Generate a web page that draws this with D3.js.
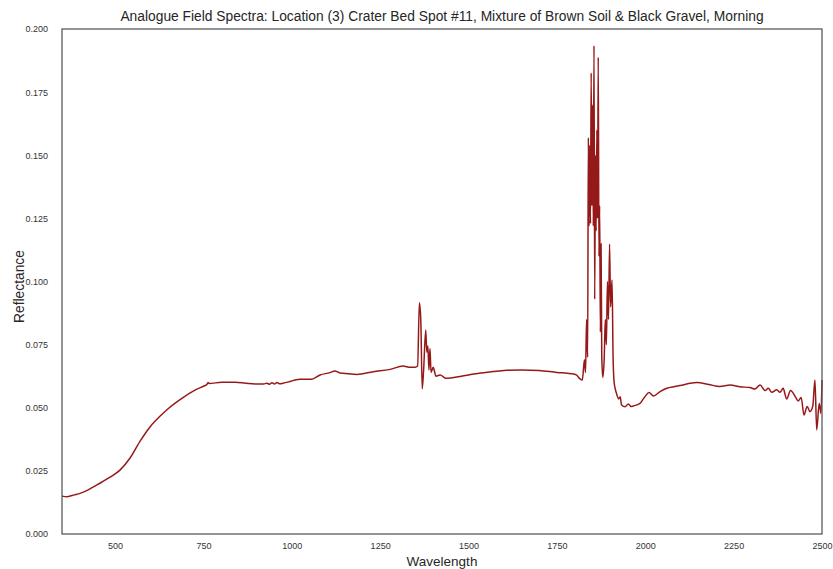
<!DOCTYPE html>
<html>
<head>
<meta charset="utf-8">
<script src="https://cdn.jsdelivr.net/npm/d3@7"></script>
<style>
  body { margin: 0; background: #fff; }
  text { font-family: "Liberation Sans", Arial, sans-serif; fill: #262626; }
</style>
</head>
<body>
<svg id="chart" width="833" height="569"></svg>
<script>
"use strict";

var titleText = "Analogue Field Spectra: Location (3) Crater Bed Spot #11, Mixture of Brown Soil & Black Gravel, Morning";

var xTicks = [500, 750, 1000, 1250, 1500, 1750, 2000, 2250, 2500];
var yTicks = [0, 0.025, 0.05, 0.075, 0.1, 0.125, 0.15, 0.175, 0.2];

// wavelength (nm) and reflectance
var wavelength = [
  350, 365, 385, 401, 420, 439, 462, 486, 514, 542, 571, 600, 630, 651, 689, 726, 755, 760, 763, 766,
  802, 840, 870, 896, 920, 930, 937, 944, 951, 958, 965, 975, 995, 1010, 1023, 1056, 1080, 1108, 1122, 1136,
  1160, 1184, 1231, 1278, 1315, 1335, 1349, 1356, 1361, 1365, 1369, 1373, 1379, 1382, 1385, 1388, 1391, 1394, 1400, 1408,
  1420, 1435, 1450, 1480, 1520, 1560, 1600, 1650, 1700, 1750, 1790, 1805, 1815, 1822, 1828, 1831, 1834, 1837, 1839, 1841,
  1843, 1845, 1847, 1849, 1851, 1853, 1855, 1857, 1859, 1861, 1863, 1865, 1867, 1869, 1871, 1873, 1875, 1877, 1880, 1884,
  1887, 1890, 1893, 1896, 1899, 1902, 1906, 1909, 1912, 1918, 1925, 1929, 1933, 1943, 1952, 1960, 1966, 1985, 1999, 2011,
  2023, 2042, 2061, 2084, 2098, 2146, 2180, 2211, 2240, 2268, 2296, 2310, 2325, 2339, 2348, 2358, 2372, 2381, 2390, 2400,
  2411, 2424, 2433, 2441, 2449, 2458, 2466, 2474, 2480, 2485, 2492, 2497, 2500
];
var reflectance = [
  0.0150, 0.0148, 0.0155, 0.0161, 0.0172, 0.0187, 0.0205, 0.0225, 0.0253, 0.0300, 0.0368, 0.0426, 0.0470, 0.0497, 0.0537, 0.0570, 0.0588, 0.0592, 0.0600, 0.0596,
  0.0601, 0.0601, 0.0597, 0.0594, 0.0594, 0.0597, 0.0593, 0.0599, 0.0594, 0.0600, 0.0595, 0.0597, 0.0604, 0.0610, 0.0613, 0.0613, 0.0630, 0.0639, 0.0646, 0.0638,
  0.0635, 0.0632, 0.0643, 0.0652, 0.0665, 0.0660, 0.0660, 0.0665, 0.0916, 0.0848, 0.0575, 0.0650, 0.0808, 0.0720, 0.0745, 0.0650, 0.0735, 0.0640, 0.0660, 0.0625,
  0.0630, 0.0617, 0.0618, 0.0625, 0.0635, 0.0642, 0.0648, 0.0650, 0.0648, 0.0640, 0.0635, 0.0630, 0.0615, 0.0610, 0.0690, 0.0640, 0.0850, 0.0700, 0.1570, 0.1220,
  0.1540, 0.1230, 0.1826, 0.1300, 0.1700, 0.1220, 0.1934, 0.0930, 0.1500, 0.1200, 0.1600, 0.1250, 0.1888, 0.1100, 0.1300, 0.0800, 0.1150, 0.0700, 0.0620, 0.0700,
  0.0850, 0.0750, 0.1000, 0.0850, 0.1148, 0.0900, 0.1006, 0.0700, 0.0600, 0.0560, 0.0535, 0.0544, 0.0511, 0.0504, 0.0515, 0.0505, 0.0507, 0.0517, 0.0544, 0.0560,
  0.0547, 0.0564, 0.0577, 0.0584, 0.0588, 0.0600, 0.0592, 0.0584, 0.0590, 0.0583, 0.0580, 0.0574, 0.0590, 0.0568, 0.0577, 0.0561, 0.0571, 0.0561, 0.0577, 0.0535,
  0.0568, 0.0545, 0.0527, 0.0541, 0.0471, 0.0505, 0.0485, 0.0507, 0.0610, 0.0412, 0.0517, 0.0478, 0.0610
];

var margin = { left: 62, right: 11, top: 29, bottom: 35 };
var width = 833, height = 569;
var plotW = width - margin.left - margin.right;
var plotH = height - margin.top - margin.bottom;

var svg = d3.select('#chart');
var g = svg.append('g').attr('transform', 'translate(' + margin.left + ',' + margin.top + ')');

var x = d3.scaleLinear().domain([350, 2500]).range([0, plotW]);
var y = d3.scaleLinear().domain([0, 0.2]).range([plotH, 0]);

var xAxis = g.append('g')
    .attr('transform', 'translate(0,' + plotH + ')')
    .call(d3.axisBottom(x).tickValues(xTicks).tickSize(0).tickPadding(9).tickFormat(d3.format('d')));
xAxis.select('.domain').remove();
xAxis.selectAll('text').style('font-size', '9px').style('fill', '#333');

var yAxis = g.append('g')
    .call(d3.axisLeft(y).tickValues(yTicks).tickSize(0).tickPadding(14).tickFormat(d3.format('.3f')));
yAxis.select('.domain').remove();
yAxis.selectAll('text').style('font-size', '9px').style('fill', '#333');

var points = wavelength.map(function(w, i) { return [w, reflectance[i]]; });

// monotone keeps the smooth shoulder around 600 nm without overshooting the spikes
g.append('path')
    .datum(points)
    .attr('fill', 'none')
    .attr('stroke', '#8b0000')
    .attr('stroke-opacity', 0.9)
    .attr('stroke-width', 1.5)
    .attr('stroke-linejoin', 'round')
    .attr('d', d3.line().curve(d3.curveMonotoneX).x(function(d) { return x(d[0]); }).y(function(d) { return y(d[1]); }));

g.append('rect')
    .attr('x', 0).attr('y', 0)
    .attr('width', plotW).attr('height', plotH)
    .attr('fill', 'none')
    .attr('stroke', '#555')
    .attr('stroke-width', 1.25);

svg.append('text')
    .attr('x', margin.left + plotW / 2)
    .attr('y', 21)
    .attr('text-anchor', 'middle')
    .style('font-size', '13.8px')
    .text(titleText);

svg.append('text')
    .attr('x', margin.left + plotW / 2)
    .attr('y', 566)
    .attr('text-anchor', 'middle')
    .style('font-size', '13.5px')
    .text('Wavelength');

svg.append('text')
    .attr('transform', 'translate(24,' + (margin.top + plotH / 2 + 5) + ') rotate(-90)')
    .attr('text-anchor', 'middle')
    .style('font-size', '13.8px')
    .text('Reflectance');
</script>
</body>
</html>
